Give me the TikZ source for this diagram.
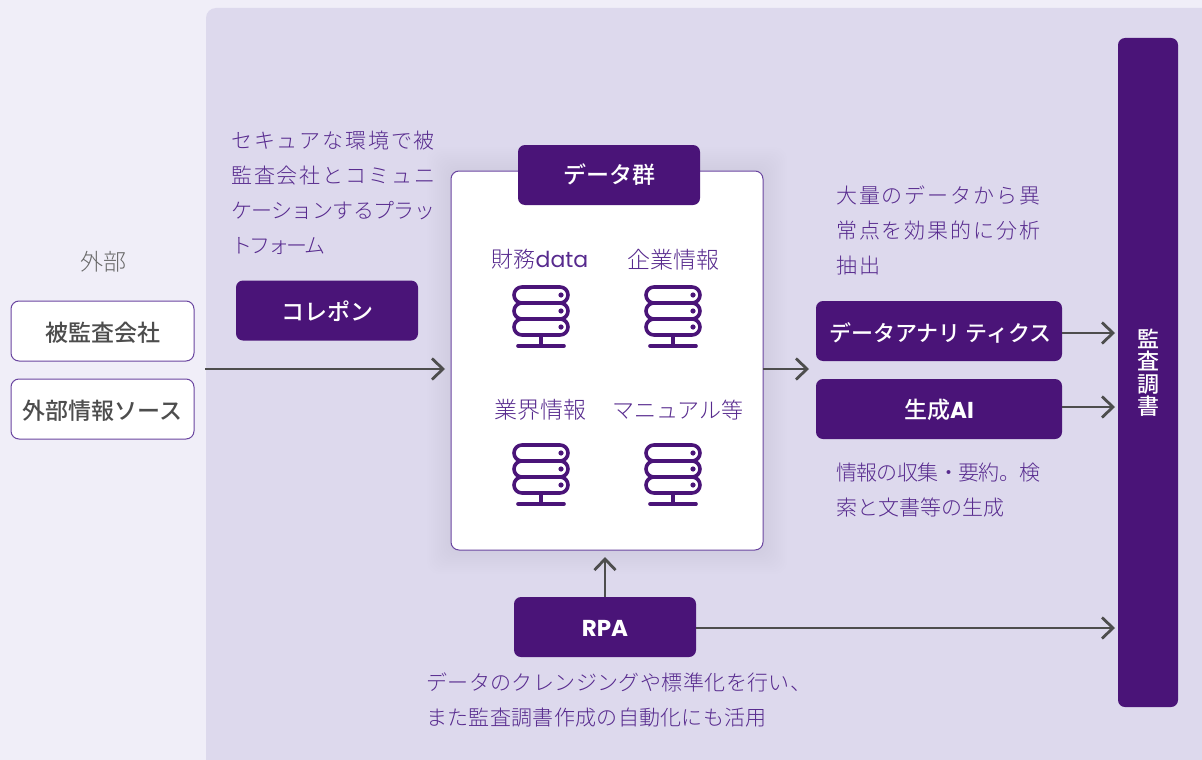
\documentclass[tikz,border=0pt]{standalone}
\usepackage{fontspec}
\setmainfont{Noto Sans CJK JP Light}[BoldFont={Noto Sans CJK JP Medium}]
\newfontfamily\lat{Poppins}
\newcommand{\track}[1]{\addfontfeature{LetterSpace=#1}}
\usetikzlibrary{arrows.meta}
\definecolor{Deep}{HTML}{4A1478}
\definecolor{Soft}{HTML}{572A8E}
\definecolor{Edge}{HTML}{6A45A0}
\definecolor{Panel}{HTML}{DDD9ED}
\definecolor{Page}{HTML}{F0EEF8}
\definecolor{Ink}{HTML}{4D4D4D}
\tikzset{
	darkbox/.style={rectangle,rounded corners=7pt,fill=Deep,text=white,minimum width=#1,minimum height=60pt,inner sep=0pt,text height=20pt,text depth=0pt,font=\fontsize{23}{26}\selectfont\bfseries},
	lightbox/.style={rectangle,rounded corners=8pt,draw=Edge,line width=1pt,fill=white,text=Ink,minimum width=183pt,minimum height=60pt,inner sep=0pt,text height=21pt,text depth=0pt,font=\fontsize{23}{26}\selectfont\bfseries},
	note/.style={anchor=north west,inner sep=0pt,align=left,text=Soft,font=\fontsize{21}{35}\selectfont},
	caption/.style={inner sep=0pt,text=Soft,font=\fontsize{23}{26}\selectfont},
	flow/.style={draw=Ink,line width=2.8pt,-{Straight Barb[length=11pt,width=21pt,line width=2.8pt]}},
}
\begin{document}
\begin{tikzpicture}[x=1pt,y=-1pt]
\useasboundingbox (0,0) rectangle (1202,760);
%% Background
\fill[Page] (0,0) rectangle (1202,760);
\fill[Panel,rounded corners=10pt] (206,780) -- (206,8) -- (1240,8) -- (1240,780) -- cycle;
%% Shadow of the data box
\foreach \x in {1,...,12}
	{\fill[black,opacity=0.004,rounded corners=12pt] (451-2*\x,171-2*\x) rectangle (763+2*\x,550+2*\x);}
%% External sources
\node[inner sep=0pt,text=Ink!85,font=\fontsize{23}{26}\selectfont] (outside) at (103,262) {外部};
\node[lightbox] (auditee) at (102.5,331) {被監査会社};
\node[lightbox] (sources) at (102.5,409) {外部情報ソース};
%% Data box
\node[rectangle,rounded corners=8pt,draw=Edge,line width=1pt,fill=white,minimum width=312pt,minimum height=379pt,inner sep=0pt] (data) at (607,360.5) {};
\node[darkbox=182pt,text height=16pt] (datatitle) at (609,175) {データ群};
\node[caption,font=\fontsize{22}{26}\selectfont] (finance) at (540,259) {財務{\lat data}};
\node[caption] (company) at (673,260) {企業情報};
\node[caption] (industry) at (540,410) {業界情報};
\node[caption,font=\fontsize{22}{26}\selectfont] (manual) at (678,410) {マニュアル等};
%% Servers
\foreach \a/\b in {541/286,673/286,541/444,673/444}
{
	\foreach \x in {0,1,2}
	{
		\draw[Deep,line width=3.6pt,rounded corners=8pt] (\a-27,\b+1+16*\x) rectangle (\a+27,\b+1+16+16*\x);
		\fill[Deep] (\a+20,\b+9+16*\x) circle[radius=2.6];
	}
	\draw[Deep,line width=3.6pt] (\a,\b+51) -- (\a,\b+60);
	\draw[Deep,line width=3.6pt,line cap=round] (\a-23,\b+60) -- (\a+23,\b+60);
}
%% Collabo platform
\node[note] (collabonote) at (231,131) {\track{9}セキュアな環境で被\\\track{9}監査会社とコミュニ\\\track{-3}ケーションするプラッ\\\track{-12}トフォーム};
\node[darkbox=182pt] (collabo) at (327,310.5) {コレポン};
%% Analytics
\node[note] (analyticsnote) at (836,186) {\track{9}大量のデータから異\\\track{9}常点を効果的に分析\\\track{9}抽出};
\node[darkbox=246pt,font=\fontsize{22}{26}\selectfont\bfseries] (analytics) at (939,331) {\hspace*{3pt}データアナリ ティクス};
\node[darkbox=246pt,text height=18pt] (genai) at (939,409) {生成{\lat\bfseries AI}};
\node[note] (genainote) at (836,463) {\track{-3}情報の収集・要約。検\\索と文書等の生成};
%% Audit file
\node[rectangle,rounded corners=7pt,fill=Deep,minimum width=60pt,minimum height=669pt,inner sep=0pt] (audit) at (1148,372.5) {};
\node[inner sep=0pt,align=center,text=white,font=\fontsize{22}{22.5}\selectfont\bfseries] (audittext) at (audit.center) {監\\査\\調\\書};
%% RPA
\node[darkbox=182pt,text height=18pt] (rpa) at (605,627) {{\lat\bfseries RPA}};
\node[note] (rpanote) at (426,673) {\track{2}データのクレンジングや標準化を行い、\\\track{1.5}また監査調書作成の自動化にも活用};
%% Connectors
\coordinate (inA) at (205,369);
\coordinate (inB) at (445,369);
\coordinate (outA) at (763,369);
\coordinate (outB) at (809,369);
\coordinate (rpaup) at (605,557);
\draw[flow] (inA) -- (inB);
\draw[flow] (outA) -- (outB);
\draw[flow] (analytics.east |- 0,333) -- (1115,333);
\draw[flow] (genai.east |- 0,407) -- (1115,407);
\draw[flow] (rpa.north) -- (rpaup);
\draw[flow] (rpa.east |- 0,628) -- (1115,628);
\end{tikzpicture}
\end{document}
